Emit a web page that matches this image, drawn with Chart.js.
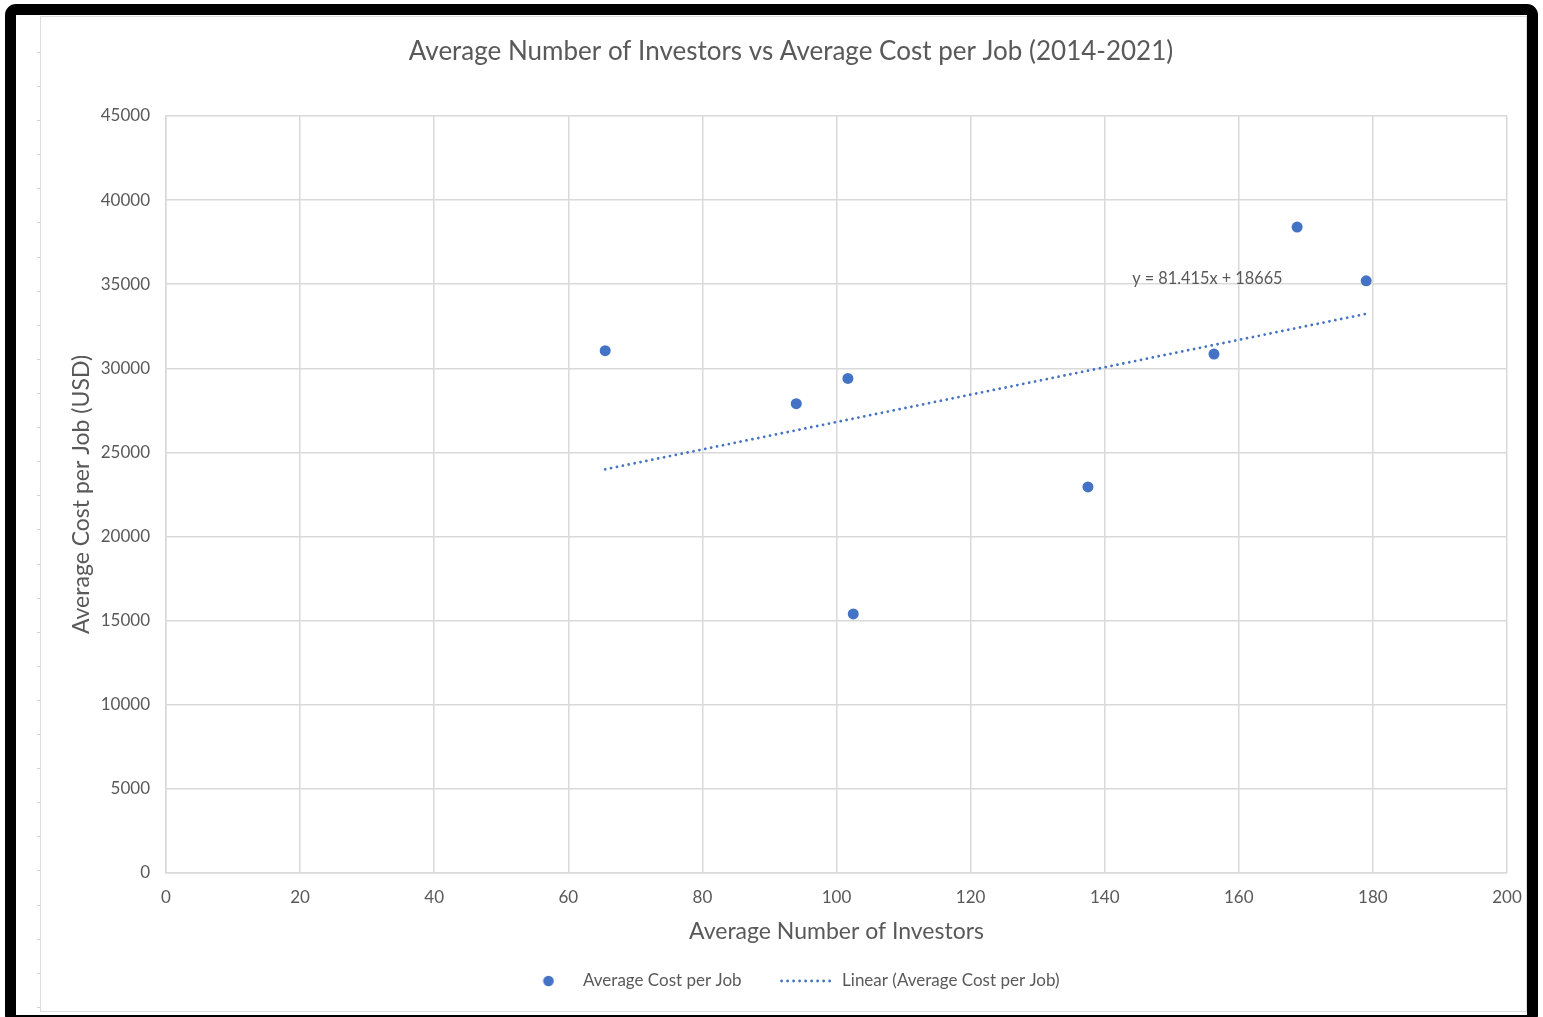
<!DOCTYPE html>
<html>
<head>
<meta charset="utf-8">
<script src="https://cdn.jsdelivr.net/npm/chart.js@4/dist/chart.umd.min.js"></script>
<style>
  html, body { margin: 0; padding: 0; background: #fff; width: 1543px; height: 1017px; overflow: hidden; }
  .frame { position: absolute; left: 5px; top: 4px; width: 1533px; height: 1022px; box-sizing: border-box;
           border: 11px solid #000; border-radius: 11px; }
  .sheet { position: absolute; left: 40px; top: 16px; width: 1487px; height: 996px; box-sizing: border-box;
           border: 1px solid #dcdcdc; }
  .mark { position: absolute; left: 37px; width: 3px; height: 1px; background: #d4d4d4; }
  #chart { position: absolute; left: 0; top: 0; }
</style>
</head>
<body>
<div class="frame"></div>
<div class="sheet"></div>
<div id="marks"></div>
<canvas id="chart" width="1543" height="1017"></canvas>
<script>
// Average number of investors per year and average cost per job (USD), 2014-2021
const investors  = [65.5, 94.0, 101.7, 102.5, 137.5, 156.3, 168.7, 179.0];
const costPerJob = [31050, 27900, 29400, 15400, 22950, 30850, 38400, 35200];

// Linear trendline coefficients (shown as the equation label)
const trendSlope = 81.415;
const trendIntercept = 18665;

// Axis tick values
const xTickValues = [0, 20, 40, 60, 80, 100, 120, 140, 160, 180, 200];
const yTickValues = [0, 5000, 10000, 15000, 20000, 25000, 30000, 35000, 40000, 45000];

// Where the equation label sits, in data units
const equationAt = { x: 144.1, y: 35350 };

const seriesName = 'Average Cost per Job';
const trendName = 'Linear (Average Cost per Job)';
const chartTitle = 'Average Number of Investors vs Average Cost per Job (2014-2021)';

// small ruler marks along the sheet edge
(function () {
  const host = document.getElementById('marks');
  for (let y = 52; y < 1010; y += 34.1) {
    const d = document.createElement('div');
    d.className = 'mark';
    d.style.top = Math.round(y) + 'px';
    host.appendChild(d);
  }
})();

const BLUE = '#4472C4';
const TEXT = '#595959';
const GRID = '#d9d9d9';
const FONT = 'Lato';
const TREND_DASH = [0.01, 6];
const TREND_WIDTH = 2.8;

const points = investors.map((x, i) => ({ x, y: costPerJob[i] }));
const xMin = Math.min(...investors), xMax = Math.max(...investors);
const trend = [xMin, xMax].map(x => ({ x, y: trendSlope * x + trendIntercept }));

// legend marker for the point series
const dot = document.createElement('canvas');
dot.width = 12; dot.height = 12;
{
  const c = dot.getContext('2d');
  c.fillStyle = BLUE;
  c.beginPath(); c.arc(6, 6, 5.3, 0, Math.PI * 2); c.fill();
}

const equationLabel = {
  id: 'equationLabel',
  afterDatasetsDraw(chart) {
    const { ctx, scales } = chart;
    ctx.save();
    ctx.font = '16.3px ' + FONT;
    ctx.fillStyle = TEXT;
    ctx.textBaseline = 'middle';
    ctx.textAlign = 'left';
    ctx.fillText('y = ' + trendSlope + 'x + ' + trendIntercept,
      scales.x.getPixelForValue(equationAt.x), scales.y.getPixelForValue(equationAt.y));
    ctx.restore();
  }
};

new Chart(document.getElementById('chart'), {
  type: 'scatter',
  data: {
    datasets: [
      {
        label: seriesName,
        data: points,
        backgroundColor: BLUE,
        borderColor: BLUE,
        pointRadius: 5.5,
        pointHoverRadius: 5.5,
        pointBorderWidth: 0
      },
      {
        label: trendName,
        data: trend,
        showLine: true,
        borderColor: BLUE,
        backgroundColor: BLUE,
        borderWidth: TREND_WIDTH,
        borderDash: TREND_DASH,
        borderCapStyle: 'round',
        pointRadius: 0,
        pointHoverRadius: 0
      }
    ]
  },
  options: {
    responsive: false,
    animation: false,
    devicePixelRatio: 1,
    layout: { padding: { left: 75, right: 36, top: 0, bottom: 17.5 } },
    plugins: {
      tooltip: { enabled: false },
      title: {
        display: true,
        text: chartTitle,
        color: TEXT,
        font: { family: FONT, size: 26, weight: 'normal' },
        padding: { top: 36.4, bottom: 48.4 }
      },
      legend: {
        position: 'bottom',
        labels: {
          color: TEXT,
          font: { family: FONT, size: 17 },
          usePointStyle: true,
          pointStyleWidth: 52,
          padding: 40,
          generateLabels(chart) {
            const items = Chart.defaults.plugins.legend.labels.generateLabels(chart);
            items[0].pointStyle = dot;
            Object.assign(items[1], {
              pointStyle: 'line',
              strokeStyle: BLUE,
              lineWidth: TREND_WIDTH,
              lineDash: TREND_DASH,
              lineCap: 'round'
            });
            return items;
          }
        }
      }
    },
    scales: {
      x: {
        type: 'linear',
        min: xTickValues[0],
        max: xTickValues[xTickValues.length - 1],
        afterBuildTicks(scale) { scale.ticks = xTickValues.map(v => ({ value: v })); },
        afterFit(scale) { scale.height = 59.5; },
        grid: { color: GRID, lineWidth: 1.5, drawTicks: false },
        border: { color: GRID, width: 1.5 },
        ticks: { color: TEXT, font: { family: FONT, size: 17 }, padding: 14.8, callback: v => String(v) },
        title: {
          display: true, text: 'Average Number of Investors', color: TEXT,
          font: { family: FONT, size: 23 }, padding: { top: 0, bottom: -13.3 }
        }
      },
      y: {
        type: 'linear',
        min: yTickValues[0],
        max: yTickValues[yTickValues.length - 1],
        afterBuildTicks(scale) { scale.ticks = yTickValues.map(v => ({ value: v })); },
        afterFit(scale) { scale.width = 91; },
        grid: { color: GRID, lineWidth: 1.5, drawTicks: false },
        border: { color: GRID, width: 1.5 },
        ticks: { color: TEXT, font: { family: FONT, size: 17 }, padding: 16, callback: v => String(v) },
        title: {
          display: true, text: 'Average Cost per Job (USD)', color: TEXT,
          font: { family: FONT, size: 23 }, padding: { top: -7.2, bottom: 0 }
        }
      }
    }
  },
  plugins: [equationLabel]
});
</script>
</body>
</html>
